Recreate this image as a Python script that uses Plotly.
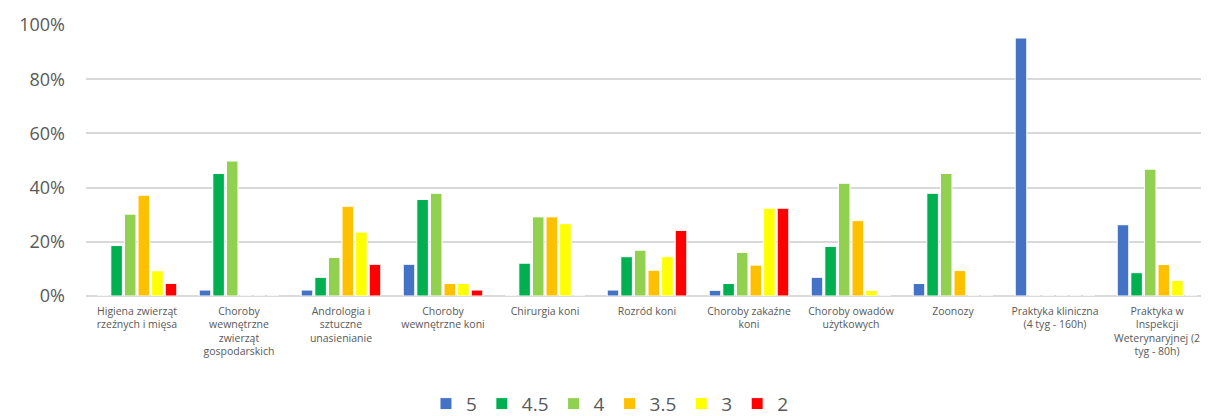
import plotly.graph_objects as go

categories = [
    "Higiena zwierząt<br>rzeźnych i mięsa",
    "Choroby<br>wewnętrzne<br>zwierząt<br>gospodarskich",
    "Andrologia i<br>sztuczne<br>unasienianie",
    "Choroby<br>wewnętrzne koni",
    "Chirurgia koni",
    "Rozród koni",
    "Choroby zakaźne<br>koni",
    "Choroby owadów<br>użytkowych",
    "Zoonozy",
    "Praktyka kliniczna<br>(4 tyg - 160h)",
    "Praktyka w<br>Inspekcji<br>Weterynaryjnej (2<br>tyg - 80h)",
]

series_names = ["5", "4.5", "4", "3.5", "3", "2"]
v5  = [0.0, 2.2, 2.2, 11.7, 0.0, 2.2, 2.1, 6.9, 4.6, 95.2, 26.3]
v45 = [18.6, 45.2, 6.9, 35.6, 12.1, 14.5, 4.6, 18.3, 37.9, 0.0, 8.6]
v4  = [30.2, 49.8, 14.2, 37.9, 29.2, 16.9, 16.1, 41.6, 45.2, 0.0, 46.8]
v35 = [37.2, 0.0, 33.1, 4.6, 29.2, 9.5, 11.4, 27.8, 9.4, 0.0, 11.6]
v3  = [9.3, 0.0, 23.6, 4.6, 26.7, 14.5, 32.4, 2.1, 0.0, 0.0, 5.7]
v2  = [4.65, 0.0, 11.7, 2.2, 0.0, 24.2, 32.4, 0.0, 0.0, 0.0, 0.0]
colors = ["#4472C4", "#00B050", "#92D050", "#FFC000", "#FFFF00", "#FF0000"]

fig = go.Figure()
for name, vals, col in zip(series_names, [v5, v45, v4, v35, v3, v2], colors):
    fig.add_trace(go.Bar(
        x=categories, y=[v / 100 for v in vals], name=name,
        marker=dict(color=col, line=dict(color="white", width=1)),
    ))

# page body has an 8px margin, so the figure is offset by (8, 8)
fig.update_layout(
    width=1201, height=408,
    margin=dict(l=78, r=1, t=17, b=120, autoexpand=False),
    paper_bgcolor="white", plot_bgcolor="white",
    barmode="group", bargap=0.2, bargroupgap=0.15,
    font=dict(family="Open Sans, Liberation Sans, sans-serif", color="#595959"),
    showlegend=True,
    legend=dict(orientation="h", x=0.467, xref="paper", xanchor="center",
                yref="container", y=0.03, yanchor="middle",
                font=dict(size=19, color="#595959"), traceorder="normal",
                tracegroupgap=0, itemwidth=30),
    yaxis=dict(range=[0, 1.0], tickvals=[0, 0.2, 0.4, 0.6, 0.8, 1.0], tickformat=".0%",
               gridcolor="#d9d9d9", gridwidth=1.5, zeroline=True, zerolinecolor="#d9d9d9",
               zerolinewidth=1.5, tickfont=dict(size=18, color="#595959"),
               ticklabelstandoff=20, showline=False, automargin=False),
    xaxis=dict(tickfont=dict(size=10.5, color="#595959"), showline=False, ticks="",
               tickangle=0, automargin=False, ticklabelstandoff=7),
)

fig.write_html("out.html")
